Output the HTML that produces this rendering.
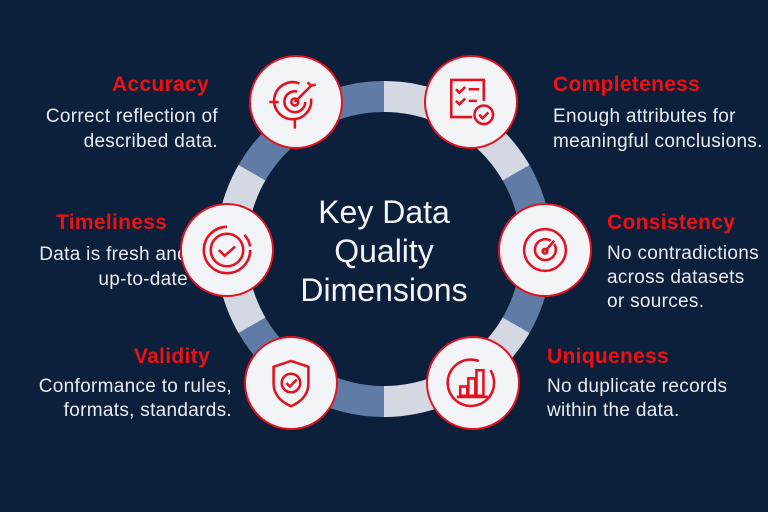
<!DOCTYPE html>
<html><head><meta charset="utf-8"><style>
html,body{margin:0;padding:0}
body{width:768px;height:512px;background:#0c1f3b;position:relative;overflow:hidden;font-family:"Liberation Sans",sans-serif}
.ring{position:absolute;left:216px;top:81px;width:336px;height:336px;border-radius:50%;
background:conic-gradient(#d3d8e3 0 60deg,#5f7ba6 60deg 120deg,#d3d8e3 120deg 180deg,#5f7ba6 180deg 240deg,#d3d8e3 240deg 300deg,#5f7ba6 300deg 360deg);}
.ring:after{content:"";position:absolute;left:31px;top:31px;right:31px;bottom:31px;border-radius:50%;background:#0c1f3b}
.c{position:absolute;width:90px;height:90px;border-radius:50%;background:#f2f4f8;border:2.5px solid #e3121f;box-sizing:content-box;transform:translate(-47px,-47px)}
.c svg{position:absolute;left:16px;top:16px}
.t{position:absolute;color:#ee1111;font-weight:bold;font-size:21px;letter-spacing:0.3px;white-space:nowrap}
.d{position:absolute;color:#e8ecf2;font-size:19px;letter-spacing:0.3px;line-height:25px;white-space:nowrap}
.r{text-align:right}
.ctr{position:absolute;left:264px;top:193px;width:240px;text-align:center;color:#f2f4f8;font-size:32px;line-height:39px}
</style></head><body>
<div class="ring"></div>
<div class="ctr">Key Data<br>Quality<br>Dimensions</div>

<div class="t" style="left:112px;top:73px">Accuracy</div>
<div class="d r" style="right:550px;top:104px">Correct reflection of<br>described data.</div>

<div class="t" style="left:553px;top:73px">Completeness</div>
<div class="d" style="left:553px;top:104px">Enough attributes for<br>meaningful conclusions.</div>

<div class="t" style="left:56px;top:211px">Timeliness</div>
<div class="d r" style="right:580px;top:242px">Data is fresh and<br>up-to-date</div>

<div class="t" style="left:607px;top:211px">Consistency</div>
<div class="d" style="left:607px;top:242px;line-height:24px">No contradictions<br>across datasets<br>or sources.</div>

<div class="t" style="left:134px;top:345px">Validity</div>
<div class="d r" style="right:536px;top:375px;line-height:24px">Conformance to rules,<br>formats, standards.</div>

<div class="t" style="left:547px;top:345px">Uniqueness</div>
<div class="d" style="left:547px;top:375px;line-height:24px">No duplicate records<br>within the data.</div>

<div class="c" style="left:296px;top:102px"><svg width="58" height="58" viewBox="0 0 50 50" fill="none" stroke="#e3121f" stroke-width="2.2">
<path d="M38 22 A16 16 0 1 1 28 9"/><path d="M33 25 A9 9 0 1 1 26 16"/><circle cx="24" cy="25" r="3"/><path d="M24 25 L38 11 M35 8 L38 11 L42 10 M2 25 H10 M24 39 V48"/></svg></div>

<div class="c" style="left:471px;top:102px"><svg width="58" height="58" viewBox="0 0 50 50" fill="none" stroke="#e3121f" stroke-width="2.2">
<path d="M26 38 H8 V6 H36 V24"/><path d="M12 14 l3 3 5-5 M23 14 H32 M12 24 l3 3 5-5 M23 24 H30"/><circle cx="36" cy="36" r="8"/><path d="M32 36 l3 3 5-5"/></svg></div>

<div class="c" style="left:227px;top:250px"><svg width="58" height="58" viewBox="0 0 50 50" fill="none" stroke="#e3121f" stroke-width="2.2">
<path d="M25 5 A20 20 0 1 0 45 25"/><path d="M40 12 A20 20 0 0 1 45 22" /><circle cx="25" cy="25" r="14"/><path d="M18 25 l5 5 9-8"/></svg></div>

<div class="c" style="left:545px;top:250px"><svg width="58" height="58" viewBox="0 0 50 50" fill="none" stroke="#e3121f" stroke-width="2.2">
<circle cx="25" cy="25" r="18"/><path d="M33 20 A9 9 0 1 1 30 17"/><circle cx="25" cy="26" r="2"/><path d="M25 26 L33 17"/></svg></div>

<div class="c" style="left:291px;top:383px"><svg width="58" height="58" viewBox="0 0 50 50" fill="none" stroke="#e3121f" stroke-width="2.2">
<path d="M25 6 L40 11 V26 C40 36 32 42 25 45 C18 42 10 36 10 26 V11 Z"/><circle cx="25" cy="25" r="8"/><path d="M21 25 l3 3 6-6"/></svg></div>

<div class="c" style="left:473px;top:383px"><svg width="58" height="58" viewBox="0 0 50 50" fill="none" stroke="#e3121f" stroke-width="2.2">
<path d="M40 14 A20 20 0 1 1 30 6"/><rect x="14" y="28" width="6" height="8"/><rect x="21" y="21" width="6" height="15"/><rect x="28" y="14" width="6" height="22"/><path d="M11 37 H38"/></svg></div>
</body></html>
